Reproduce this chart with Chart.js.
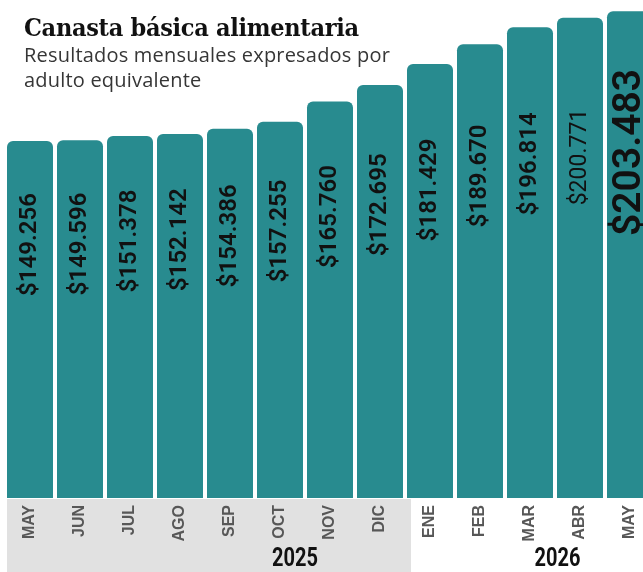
<!DOCTYPE html>
<html lang="es">
<head>
<meta charset="utf-8">
<title>Canasta básica alimentaria</title>
<script src="https://cdn.jsdelivr.net/npm/chart.js@4.4.1/dist/chart.umd.min.js"></script>
<style>
  html, body { margin: 0; padding: 0; background: #fff; overflow: hidden; }
  #wrap { position: relative; width: 643px; height: 572px; overflow: hidden; }
  #cbaChart { position: absolute; left: 0; top: 0; }
  .head { position: absolute; left: 24px; top: 13px; z-index: 2; }
  .head h1 { margin: 0; font-family: 'DejaVu Serif Condensed', 'DejaVu Serif', serif; font-weight: 700;
             font-size: 25px; line-height: 29px; color: #111; letter-spacing: -0.3px; }
  .head p { margin: 0; font-family: 'Open Sans', sans-serif; font-size: 20px; line-height: 25px; color: #363636;
            letter-spacing: 0.2px; }
</style>
</head>
<body>
<div id="wrap">
  <div class="head">
    <h1>Canasta básica alimentaria</h1>
    <p>Resultados mensuales expresados por<br>adulto equivalente</p>
  </div>
  <canvas id="cbaChart" width="660" height="572"></canvas>
</div>
<script>
// CBA por adulto equivalente, mayo 2025 - mayo 2026 (pesos)
const MONTHS = ['MAY', 'JUN', 'JUL', 'AGO', 'SEP', 'OCT', 'NOV', 'DIC', 'ENE', 'FEB', 'MAR', 'ABR', 'MAY'];
const CBA_VALUES = [149256, 149596, 151378, 152142, 154386, 157255, 165760, 172695, 181429, 189670, 196814, 200771, 203483];
const YEARS = ['2025', '2026'];
const YEAR_FIRST_INDEX = [0, 8];

const BAR_COLOR = '#288b8f';

function fmtPesos(v) {
  return '$' + String(v).replace(/\B(?=(\d{3})+(?!\d))/g, '.');
}

// gray band + year names under the month ticks
const yearBand = {
  id: 'yearBand',
  beforeDraw(chart, args, opts) {
    const { ctx, chartArea } = chart;
    const bars = chart.getDatasetMeta(0).data;
    const x = chart.scales.x;
    ctx.save();
    const first = bars[YEAR_FIRST_INDEX[0]];
    const next = bars[YEAR_FIRST_INDEX[1]];
    ctx.fillStyle = opts.bandColor;
    const left = first.x - first.width / 2;
    const right = next.x - next.width / 2 + 4;
    ctx.fillRect(left, chartArea.bottom + 1, right - left, chart.height - chartArea.bottom - 1);

    ctx.fillStyle = '#111';
    ctx.font = opts.font;
    ctx.textAlign = 'center';
    ctx.textBaseline = 'alphabetic';
    YEARS.forEach((yr, i) => {
      ctx.save();
      ctx.translate(x.getPixelForValue(opts.labelAt[i]), opts.baseline);
      ctx.scale(opts.squeeze, 1);
      ctx.fillText(yr, 0, 0);
      ctx.restore();
    });
    ctx.restore();
  },
};

// rotated value inside each bar
const valueLabels = {
  id: 'valueLabels',
  afterDatasetsDraw(chart, args, opts) {
    const { ctx } = chart;
    const y = chart.scales.y;
    chart.getDatasetMeta(0).data.forEach((bar, i) => {
      const v = CBA_VALUES[i];
      ctx.save();
      ctx.translate(bar.x, y.getPixelForValue(v * opts.anchor));
      ctx.rotate(-Math.PI / 2);
      ctx.font = opts.font(i);
      ctx.fillStyle = '#111';
      ctx.textAlign = 'center';
      ctx.textBaseline = 'middle';
      ctx.fillText(fmtPesos(v), 0, 0);
      ctx.restore();
    });
  },
};

new Chart(document.getElementById('cbaChart'), {
  type: 'bar',
  data: {
    labels: MONTHS,
    datasets: [{
      data: CBA_VALUES,
      backgroundColor: BAR_COLOR,
      borderRadius: { topLeft: 6, topRight: 6 },
      borderSkipped: 'bottom',
      barPercentage: 0.92,
      categoryPercentage: 1,
    }],
  },
  options: {
    responsive: false,
    animation: false,
    layout: { padding: { left: 5, right: 5, top: 0, bottom: 0 } },
    plugins: {
      legend: { display: false },
      tooltip: { enabled: false },
      yearBand: {
        bandColor: '#e1e1e1',
        font: '700 25px Roboto, "Liberation Sans", sans-serif',
        squeeze: 0.8,
        labelAt: [5.3, 10.55],
        baseline: 566,
      },
      valueLabels: {
        anchor: 0.71,
        font: (i) => {
          if (i === CBA_VALUES.length - 1) return '600 39px Roboto';
          if (i === CBA_VALUES.length - 2) return '400 23px Roboto';
          return '600 24px Roboto';
        },
      },
    },
    scales: {
      x: {
        grid: { display: false, drawTicks: false },
        border: { display: false },
        ticks: {
          autoSkip: false,
          minRotation: 90,
          maxRotation: 90,
          padding: 7,
          color: '#575757',
          font: { family: '"Liberation Sans", Arial, sans-serif', size: 16, weight: 'bold' },
        },
        afterFit(scale) { scale.height = 74; },
      },
      y: { display: false, min: 0, max: 208200 },
    },
  },
  plugins: [yearBand, valueLabels],
});
</script>
</body>
</html>
